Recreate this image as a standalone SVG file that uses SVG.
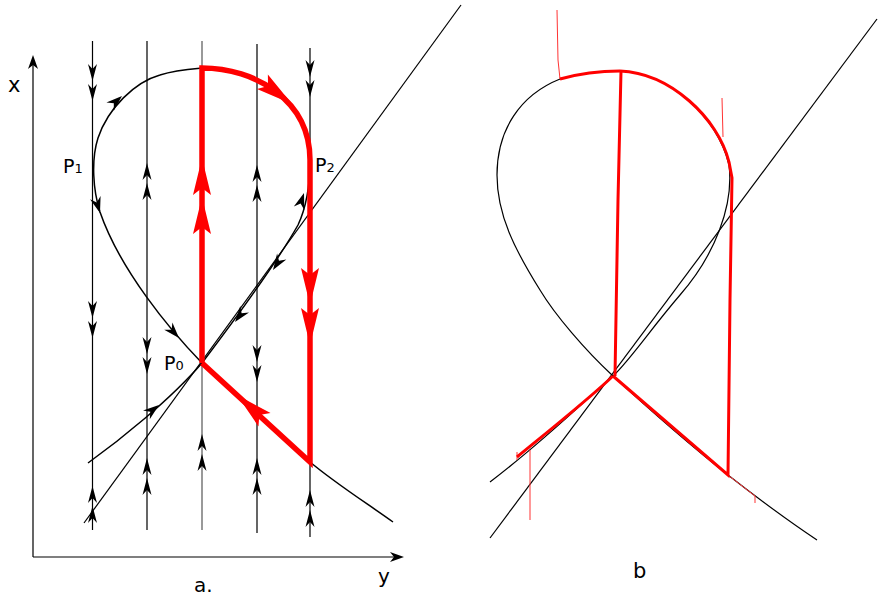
<svg xmlns="http://www.w3.org/2000/svg" xmlns:xlink="http://www.w3.org/1999/xlink" width="881" height="599" viewBox="0 0 881 599">
<style>
.ln{fill:none;stroke:#000;stroke-width:1.2}
.gr{fill:none;stroke:#555;stroke-width:1.2}
.cv{fill:none;stroke:#000;stroke-width:1.5}
.rd{fill:none;stroke:#f00;stroke-width:5.5;stroke-linejoin:miter}
.rb{fill:none;stroke:#f00;stroke-width:3}
.rt{fill:none;stroke:#f33;stroke-width:1}
.ah{fill:#000}
.rh{fill:#f00}
text{font-family:"DejaVu Sans","Liberation Sans",sans-serif;fill:#000}
</style>
<defs>
<path id="du" d="M0,0 l-4.5,17 l4.5,-5 l4.5,5z M0,20 l-4.5,17 l4.5,-5 l4.5,5z"/>
<path id="dd" d="M0,0 l-4.5,-17 l4.5,5 l4.5,-5z M0,-20 l-4.5,-17 l4.5,5 l4.5,-5z"/>
<path id="ah" d="M0,0 L-16,-5.5 L-11,0 L-16,5.5 Z"/>
<path id="rh" d="M0,0 L-37,-9 L-30,0 L-37,9 Z"/>
</defs>

<g id="panel-a">
  <g id="axes">
    <path class="ln" d="M33,557 V60 M33,557 H398"/>
    <path class="ah" d="M33,55 l-5,14 l5,-4 l5,4z M404,557 l-14,-5 l4,5 l-4,5z"/>
    <text x="8" y="92" font-size="21">x</text>
    <text x="378" y="583" font-size="20">y</text>
    <text x="194" y="592" font-size="20">a.</text>
  </g>
  <g id="fibers">
    <path class="ln" d="M92.5,41 V530 M147,41 V530 M257,44 V533 M310,48 V537"/>
    <path class="gr" d="M202,41 V530"/>
    <g class="ah">
      <use xlink:href="#dd" x="92.5" y="101"/>
      <use xlink:href="#dd" x="92.5" y="338"/>
      <use xlink:href="#du" x="92.5" y="486"/>
      <use xlink:href="#du" x="147" y="163"/>
      <use xlink:href="#dd" x="147" y="374"/>
      <use xlink:href="#du" x="147" y="458"/>
      <use xlink:href="#du" x="202" y="434"/>
      <use xlink:href="#du" x="257" y="165"/>
      <use xlink:href="#dd" x="257" y="382"/>
      <use xlink:href="#du" x="257" y="458"/>
      <use xlink:href="#dd" x="310" y="97"/>
      <use xlink:href="#du" x="310" y="490"/>
    </g>
  </g>
  <g id="curves">
    <path class="ln" d="M84,523 L461,5"/>
    <path class="cv" d="M393,522 C365,502 335,483 310,462 L202,363 C170,330 120,270 100,212 C93,190 91,160 98,138 C108,108 135,82 160,75 C175,70 190,69 202,68"/>
    <path class="cv" d="M88,463 C120,440 170,400 202,363 C230,326 275,266 298,225 C306,208 310,185 310,160"/>
    <g class="ah">
      <use xlink:href="#ah" transform="translate(122,96) rotate(-42)"/>
      <use xlink:href="#ah" transform="translate(100,213) rotate(73)"/>
      <use xlink:href="#ah" transform="translate(179,338) rotate(48)"/>
      <use xlink:href="#ah" transform="translate(159,405) rotate(-38)"/>
      <use xlink:href="#ah" transform="translate(235,322) rotate(127)"/>
      <use xlink:href="#ah" transform="translate(273,270) rotate(123)"/>
      <use xlink:href="#ah" transform="translate(304,193) rotate(-72)"/>
    </g>
  </g>
  <g id="red-cycle">
    <path class="rd" d="M202,363 V68 C255,68 310,100 310,160 V462 L202,363"/>
    <g class="rh">
      <use xlink:href="#rh" transform="translate(202,158) rotate(-90)"/>
      <use xlink:href="#rh" transform="translate(202,197) rotate(-90)"/>
      <use xlink:href="#rh" transform="translate(292,104) rotate(37)"/>
      <use xlink:href="#rh" transform="translate(310,305) rotate(90)"/>
      <use xlink:href="#rh" transform="translate(310,345) rotate(90)"/>
      <use xlink:href="#rh" transform="translate(237,395) rotate(222)"/>
    </g>
  </g>
  <g id="labels-a">
    <text x="63" y="173" font-size="19">P<tspan font-size="13">1</tspan></text>
    <text x="315" y="172" font-size="19">P<tspan font-size="13">2</tspan></text>
    <text x="164" y="370" font-size="19">P<tspan font-size="13">0</tspan></text>
  </g>
</g>

<g id="panel-b">
  <g id="curves-b">
    <path class="ln" d="M490,538 L877,19"/>
    <path class="ln" d="M817,540 C790,522 760,500 728,475 C690,445 650,410 613,376 C585,350 555,315 540,290 C515,250 497,215 497,175 C497,130 520,95 560,79 C585,72 605,71 620,71 C670,73 718,118 729,165 C734,205 715,255 680,295 C650,330 630,360 613,376 C580,405 545,440 490,482"/>
  </g>
  <g id="red-b">
    <path class="rt" d="M557,10 L558,60 L560,79 M722,98 L723,137 M530,450 V520 M728,475 L755,496 L755,503 M517,452 V460"/>
    <path class="rb" stroke-width="2" d="M560,79 C585,72 605,71 620,71 M613,376 C590,398 550,430 517,457"/>
    <path class="rb" stroke-width="2.5" d="M621,71 L618,200 L615,376"/>
    <path class="rb" stroke-width="3.5" d="M620,71 C670,73 718,118 729,162 L732,178 L730,300 L728,475 L613,376"/>
  </g>
  <text x="633" y="578" font-size="21">b</text>
</g>
</svg>
